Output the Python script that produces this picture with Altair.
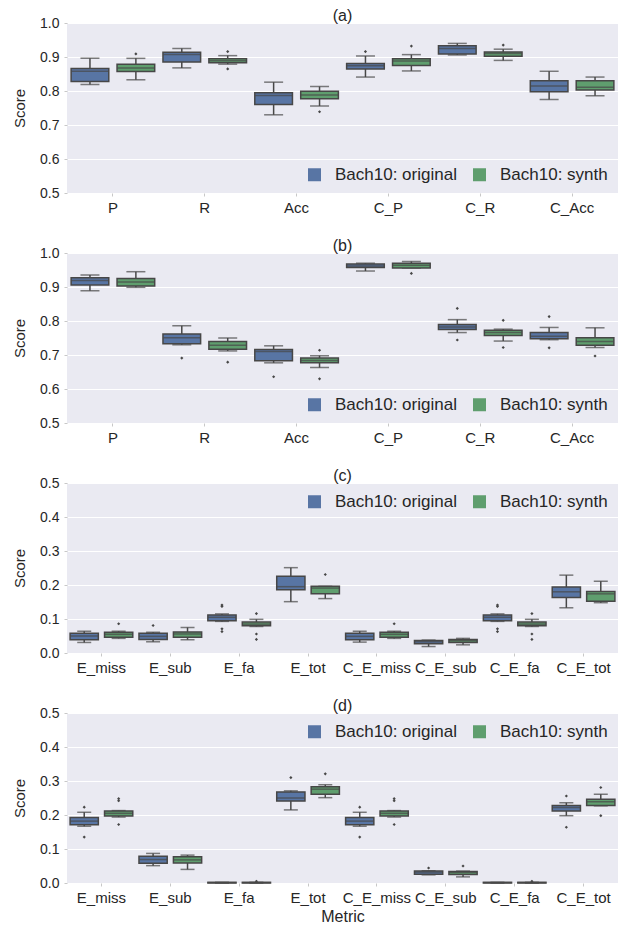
import altair as alt
import pandas as pd

series = ["Bach10: original", "Bach10: synth"]
colors = ["#5875A4", "#5F9E6E"]
metrics_ab = ["P", "R", "Acc", "C_P", "C_R", "C_Acc"]
metrics_cd = ["E_miss", "E_sub", "E_fa", "E_tot", "C_E_miss", "C_E_sub", "C_E_fa", "C_E_tot"]
ticks_ab = [0.5, 0.6, 0.7, 0.8, 0.9, 1.0]
ticks_cd = [0.0, 0.1, 0.2, 0.3, 0.4, 0.5]

# box statistics per metric: (whisker_low, q1, median, q3, whisker_high)
a_original = [(0.819, 0.828, 0.858, 0.866, 0.896), (0.868, 0.885, 0.907, 0.914, 0.925),
              (0.730, 0.760, 0.787, 0.795, 0.826), (0.841, 0.865, 0.874, 0.881, 0.903),
              (0.906, 0.909, 0.925, 0.933, 0.940), (0.775, 0.798, 0.815, 0.830, 0.858)]
a_synth = [(0.833, 0.857, 0.868, 0.879, 0.896), (0.879, 0.883, 0.889, 0.895, 0.904),
           (0.756, 0.777, 0.788, 0.799, 0.813), (0.859, 0.875, 0.888, 0.895, 0.907),
           (0.890, 0.902, 0.910, 0.915, 0.923), (0.786, 0.803, 0.811, 0.830, 0.841)]
a_out_original = [("C_P", 0.916)]
a_out_synth = [("P", 0.909), ("R", 0.916), ("R", 0.865), ("Acc", 0.739), ("C_P", 0.932), ("C_R", 0.935)]

b_original = [(0.889, 0.906, 0.919, 0.927, 0.935), (0.730, 0.733, 0.751, 0.762, 0.786),
              (0.677, 0.683, 0.710, 0.716, 0.727), (0.947, 0.957, 0.962, 0.968, 0.970),
              (0.766, 0.775, 0.782, 0.790, 0.804), (0.745, 0.748, 0.755, 0.766, 0.781)]
b_synth = [(0.899, 0.903, 0.915, 0.925, 0.945), (0.712, 0.717, 0.729, 0.740, 0.750),
           (0.663, 0.677, 0.684, 0.691, 0.698), (0.956, 0.956, 0.964, 0.970, 0.975),
           (0.741, 0.757, 0.766, 0.773, 0.776), (0.722, 0.729, 0.740, 0.751, 0.780)]
b_out_original = [("R", 0.691), ("Acc", 0.636), ("C_R", 0.837), ("C_R", 0.744), ("C_Acc", 0.813), ("C_Acc", 0.721)]
b_out_synth = [("R", 0.679), ("Acc", 0.714), ("Acc", 0.630), ("C_P", 0.940), ("C_R", 0.802),
               ("C_R", 0.722), ("C_Acc", 0.697)]

c_original = [(0.031, 0.039, 0.050, 0.058, 0.064), (0.033, 0.040, 0.049, 0.058, 0.061),
              (0.093, 0.095, 0.105, 0.112, 0.115), (0.151, 0.186, 0.195, 0.226, 0.251),
              (0.032, 0.039, 0.049, 0.058, 0.064), (0.019, 0.027, 0.033, 0.037, 0.038),
              (0.093, 0.095, 0.105, 0.112, 0.115), (0.133, 0.163, 0.180, 0.194, 0.229)]
c_synth = [(0.043, 0.046, 0.055, 0.061, 0.064), (0.039, 0.046, 0.056, 0.062, 0.075),
           (0.078, 0.080, 0.085, 0.091, 0.099), (0.160, 0.174, 0.191, 0.196, 0.196),
           (0.043, 0.046, 0.055, 0.061, 0.064), (0.024, 0.031, 0.036, 0.040, 0.043),
           (0.078, 0.080, 0.085, 0.091, 0.099), (0.148, 0.152, 0.174, 0.181, 0.211)]
c_out_original = [("E_sub", 0.081), ("E_fa", 0.141), ("E_fa", 0.137), ("E_fa", 0.071), ("E_fa", 0.063),
                  ("C_E_fa", 0.141), ("C_E_fa", 0.137), ("C_E_fa", 0.071), ("C_E_fa", 0.063)]
c_out_synth = [("E_miss", 0.086), ("E_fa", 0.116), ("E_fa", 0.056), ("E_fa", 0.040), ("E_tot", 0.231),
               ("C_E_miss", 0.086), ("C_E_fa", 0.116), ("C_E_fa", 0.056), ("C_E_fa", 0.040)]

d_original = [(0.167, 0.171, 0.182, 0.193, 0.208), (0.051, 0.058, 0.069, 0.079, 0.087),
              (0.000, 0.000, 0.001, 0.002, 0.002), (0.215, 0.241, 0.250, 0.268, 0.271),
              (0.167, 0.171, 0.182, 0.193, 0.208), (0.024, 0.026, 0.032, 0.035, 0.036),
              (0.000, 0.000, 0.001, 0.002, 0.002), (0.198, 0.212, 0.222, 0.228, 0.236)]
d_synth = [(0.194, 0.197, 0.205, 0.212, 0.213), (0.040, 0.059, 0.068, 0.077, 0.082),
           (0.000, 0.000, 0.001, 0.002, 0.002), (0.251, 0.261, 0.276, 0.283, 0.289),
           (0.194, 0.197, 0.205, 0.212, 0.213), (0.018, 0.025, 0.031, 0.034, 0.035),
           (0.000, 0.000, 0.001, 0.002, 0.002), (0.227, 0.228, 0.239, 0.246, 0.261)]
d_out_original = [("E_miss", 0.223), ("E_miss", 0.135), ("E_tot", 0.310), ("C_E_miss", 0.223),
                  ("C_E_miss", 0.135), ("C_E_sub", 0.044), ("C_E_tot", 0.256), ("C_E_tot", 0.164)]
d_out_synth = [("E_miss", 0.248), ("E_miss", 0.242), ("E_miss", 0.172), ("E_fa", 0.005), ("E_tot", 0.321),
               ("C_E_miss", 0.248), ("C_E_miss", 0.242), ("C_E_miss", 0.172), ("C_E_sub", 0.050),
               ("C_E_fa", 0.005), ("C_E_tot", 0.281), ("C_E_tot", 0.198)]

LINE = "#474747"
TEXT = "#262626"
FONT = "Liberation Sans"
W, H = 551, 170


def panel(metrics, orig, synth, out_o, out_s, title, ticks, legend_orient, xtitle, cap, boxw):
    rows = []
    for s, stats in zip(series, [orig, synth]):
        for m, (lo, q1, med, q3, hi) in zip(metrics, stats):
            rows.append(dict(metric=m, series=s, lo=lo, q1=q1, med=med, q3=q3, hi=hi))
    df = pd.DataFrame(rows)
    orows = []
    for s, outs in zip(series, [out_o, out_s]):
        for m, v in outs:
            orows.append(dict(metric=m, series=s, v=v))
    odf = pd.DataFrame(orows)

    x = alt.X("metric:N", sort=metrics,
              scale=alt.Scale(domain=metrics, paddingInner=0, paddingOuter=0),
              axis=alt.Axis(title=xtitle, labelAngle=0, labelFontSize=15, labelPadding=4,
                            titleFontSize=16, titleFontWeight="normal", titlePadding=3))
    xo = alt.XOffset("series:N", scale=alt.Scale(domain=series, paddingInner=0.18, paddingOuter=0.09))
    ys = alt.Scale(domain=[ticks[0], ticks[-1]], nice=False, zero=False)
    yaxis = alt.Axis(title="Score", values=ticks, format=".1f", labelOverlap=False, tickCount=6,
                     labelFontSize=14, titleFontSize=15, titleFontWeight="normal", titlePadding=12)

    def Y(f):
        return alt.Y(f, type="quantitative", scale=ys, axis=yaxis)

    base = alt.Chart(df).encode(x=x, xOffset=xo)
    w_lo = base.mark_rule(color=LINE, strokeWidth=1.5).encode(y=Y("lo"), y2="q1:Q")
    w_hi = base.mark_rule(color=LINE, strokeWidth=1.5).encode(y=Y("q3"), y2="hi:Q")
    c_lo = base.mark_tick(color=LINE, size=cap, thickness=1.5).encode(y=Y("lo"))
    c_hi = base.mark_tick(color=LINE, size=cap, thickness=1.5).encode(y=Y("hi"))
    box = base.mark_bar(stroke=LINE, strokeWidth=1.5).encode(
        y=Y("q1"), y2="q3:Q",
        color=alt.Color("series:N", scale=alt.Scale(domain=series, range=colors),
                        legend=alt.Legend(title=None, orient=legend_orient, direction="horizontal",
                                          offset=10, symbolType="square", symbolSize=169,
                                          symbolStrokeWidth=0, labelFontSize=17, labelOffset=12,
                                          columnPadding=14, padding=0, labelColor=TEXT, labelFont=FONT)))
    med = base.mark_tick(color=LINE, size=boxw, thickness=1.5).encode(y=Y("med"))
    pts = alt.Chart(odf).mark_point(shape="diamond", filled=True, size=10, color=LINE, opacity=1).encode(
        x=x, xOffset=xo, y=Y("v"))
    return alt.layer(w_lo, w_hi, c_lo, c_hi, box, med, pts).properties(
        width=W, height=H,
        title=alt.TitleParams(title, fontSize=16, fontWeight="normal", font=FONT, color=TEXT,
                              anchor="middle", offset=-8))


pa = panel(metrics_ab, a_original, a_synth, a_out_original, a_out_synth, "(a)", ticks_ab, "bottom-right", None, 19, 37)
pb = panel(metrics_ab, b_original, b_synth, b_out_original, b_out_synth, "(b)", ticks_ab, "bottom-right", None, 19, 37)
pc = panel(metrics_cd, c_original, c_synth, c_out_original, c_out_synth, "(c)", ticks_cd, "top-right", None, 14, 28)
pd_ = panel(metrics_cd, d_original, d_synth, d_out_original, d_out_synth, "(d)", ticks_cd, "top-right", "Metric", 14, 28)

chart = alt.vconcat(pa, pb, pc, pd_, spacing=23).resolve_scale(
    color="independent", x="independent", y="independent", xOffset="independent"
).resolve_legend(color="independent").properties(
    padding={"left": 4, "top": 0, "right": 0, "bottom": 0}
).configure_view(fill="#EAEAF2", stroke=None).configure_axis(
    labelFont=FONT, titleFont=FONT, labelColor=TEXT, titleColor=TEXT,
    domain=False, tickSize=3, tickColor="#c8c8c8", tickWidth=1
).configure_axisY(grid=True, gridColor="white", gridWidth=1.2, labelPadding=5).configure_axisX(grid=False)

chart.save("out.html", embed_options={"renderer": "svg", "actions": False})
